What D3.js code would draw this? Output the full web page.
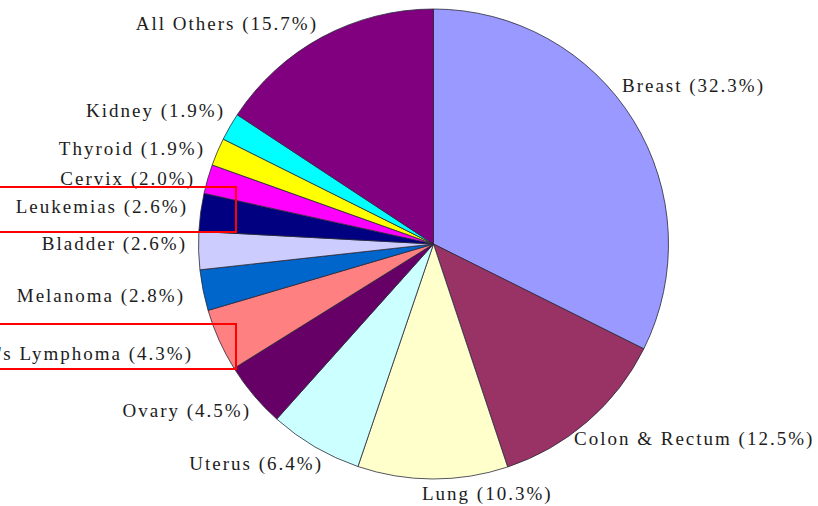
<!DOCTYPE html>
<html>
<head>
<meta charset="utf-8">
<script src="https://cdn.jsdelivr.net/npm/d3@7"></script>
<style>
  html, body { margin: 0; padding: 0; background: #fff; }
  svg { display: block; }
  .lbl { font-family: "Liberation Serif", "Times New Roman", "DejaVu Serif", serif; font-size: 19px; letter-spacing: 2px; fill: #1c1c1c; }
</style>
</head>
<body>
<div id="chart"></div>
<script>
// slices, clockwise from 12 o'clock
const sites = ["Breast", "Colon & Rectum", "Lung", "Uterus", "Ovary",
  "Non-Hodgkin's Lymphoma", "Melanoma", "Bladder", "Leukemias", "Cervix",
  "Thyroid", "Kidney", "All Others"];
const shares = [32.3, 12.5, 10.3, 6.4, 4.5, 4.3, 2.8, 2.6, 2.6, 2.0, 1.9, 1.9, 15.7];
const colors = ["#9999ff", "#993366", "#ffffcc", "#ccffff", "#660066",
  "#ff8080", "#0066cc", "#ccccff", "#000080", "#ff00ff",
  "#ffff00", "#00ffff", "#800080"];

// label placement (anchor, x, baseline) per slice
const labelAnchor = ["start", "start", "start", "end", "end", "end", "end", "end", "end", "end", "end", "end", "end"];
const labelX = [622, 574, 422, 323, 251, 193, 185, 187, 188, 195, 205, 225, 318];
const labelY = [92, 445, 500, 470, 417, 360, 302, 250, 213, 185, 155, 117, 30];

// highlighted labels and the top of their red boxes
const boxed = ["Leukemias", "Non-Hodgkin's Lymphoma"];
const boxTop = [187, 324];

const w = 818, h = 506;
const cx = 433.5, cy = 244, r = 235;

const svg = d3.select("#chart").append("svg")
  .attr("width", w)
  .attr("height", h);

const pie = d3.pie().sort(null).value(d => d.v);
const arc = d3.arc().innerRadius(0).outerRadius(r);

const data = sites.map((s, i) => ({ name: s, v: shares[i], i: i }));
const arcs = pie(data);

const g = svg.append("g").attr("transform", `translate(${cx},${cy})`);

g.selectAll("path")
  .data(arcs)
  .enter()
  .append("path")
  .attr("d", arc)
  .attr("fill", d => colors[d.data.i])
  .attr("stroke", "#2a2a3a")
  .attr("stroke-width", 0.8)
  .attr("stroke-linejoin", "round");

svg.selectAll("text.lbl")
  .data(arcs)
  .enter()
  .append("text")
  .attr("class", "lbl")
  .attr("x", d => labelX[d.data.i])
  .attr("y", d => labelY[d.data.i])
  .attr("text-anchor", d => labelAnchor[d.data.i])
  .text(d => `${d.data.name} (${d.data.v.toFixed(1)}%)`);

// red boxes round two labels (they run off the left edge)
boxed.forEach((name, k) => {
  svg.append("rect")
    .attr("x", -10)
    .attr("y", boxTop[k])
    .attr("width", 246)
    .attr("height", 45)
    .attr("fill", "none")
    .attr("stroke", "#ff0000")
    .attr("stroke-width", 2);
});
</script>
</body>
</html>
